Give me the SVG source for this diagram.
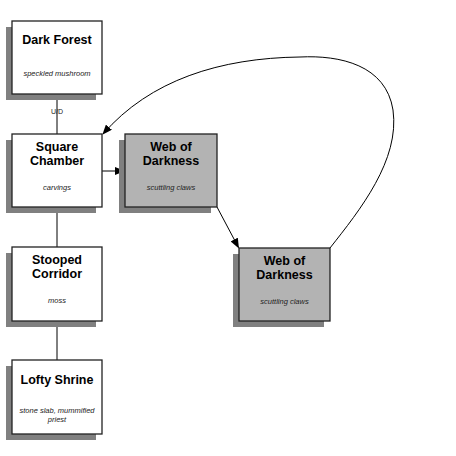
<svg xmlns="http://www.w3.org/2000/svg" width="456" height="456" viewBox="0 0 456 456">
<defs>
<style>
.shadow{fill:#808080;stroke:none}
.box{fill:#ffffff;stroke:#222;stroke-width:1.3}
.dark{fill:#b3b3b3}
.t{font-family:"Liberation Sans",Arial,sans-serif;font-weight:bold;font-size:12.5px;text-anchor:middle;fill:#000}
.s{font-family:"Liberation Sans",Arial,sans-serif;font-style:italic;font-size:7.5px;text-anchor:middle;fill:#222}
.l{font-family:"Liberation Sans",Arial,sans-serif;font-size:7px;text-anchor:middle;fill:#222}
.c{fill:none;stroke:#000;stroke-width:1}
</style>
<marker id="ah" markerWidth="10" markerHeight="8" refX="9" refY="4" orient="auto" markerUnits="userSpaceOnUse">
<path d="M0,0 L10,4 L0,8 Z" fill="#000"/>
</marker>
</defs>
<rect width="456" height="456" fill="#fff"/>
<g id="connectors">
<line class="c" x1="57" y1="94" x2="57" y2="134"/>
<text class="l" x="57" y="114">U/D</text>
<line class="c" x1="57" y1="207" x2="57" y2="247"/>
<line class="c" x1="57" y1="321" x2="57" y2="360"/>
<line class="c" x1="102" y1="171" x2="124" y2="171" marker-end="url(#ah)"/>
<line class="c" x1="217" y1="207" x2="238.5" y2="247.5" marker-end="url(#ah)"/>
<path class="c" d="M330,248 C360,210 400,160 393,110 C386,65 340,55 300,57 C220,58 150,80 103,134" marker-end="url(#ah)"/>
</g>
<g id="dark-forest">
<rect class="shadow" x="6" y="27" width="90" height="73"/>
<rect class="box" x="12" y="21" width="90" height="73"/>
<text class="t" x="57" y="44">Dark Forest</text>
<text class="s" x="57" y="76">speckled mushroom</text>
</g>
<g id="square-chamber">
<rect class="shadow" x="6" y="140" width="90" height="73"/>
<rect class="box" x="12" y="134" width="90" height="73"/>
<text class="t" x="57" y="151">Square</text>
<text class="t" x="57" y="165">Chamber</text>
<text class="s" x="57" y="190">carvings</text>
</g>
<g id="web-of-darkness-1">
<rect class="shadow" x="119" y="140" width="92" height="73"/>
<rect class="box dark" x="125" y="134" width="92" height="73"/>
<text class="t" x="171" y="151">Web of</text>
<text class="t" x="171" y="165">Darkness</text>
<text class="s" x="171" y="190">scuttling claws</text>
</g>
<g id="web-of-darkness-2">
<rect class="shadow" x="233" y="254" width="91" height="73"/>
<rect class="box dark" x="239" y="248" width="91" height="73"/>
<text class="t" x="284.5" y="265">Web of</text>
<text class="t" x="284.5" y="279">Darkness</text>
<text class="s" x="284.5" y="304">scuttling claws</text>
</g>
<g id="stooped-corridor">
<rect class="shadow" x="6" y="253" width="90" height="74"/>
<rect class="box" x="12" y="247" width="90" height="74"/>
<text class="t" x="57" y="264">Stooped</text>
<text class="t" x="57" y="278">Corridor</text>
<text class="s" x="57" y="303">moss</text>
</g>
<g id="lofty-shrine">
<rect class="shadow" x="6" y="366" width="90" height="74"/>
<rect class="box" x="12" y="360" width="90" height="74"/>
<text class="t" x="57" y="384">Lofty Shrine</text>
<text class="s" x="57" y="413">stone slab, mummified</text>
<text class="s" x="57" y="421.5">priest</text>
</g>
</svg>
